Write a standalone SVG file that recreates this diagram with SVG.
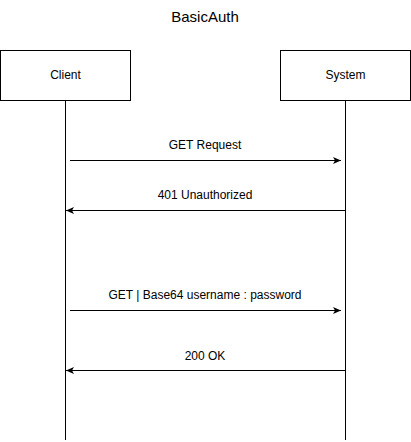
<svg xmlns="http://www.w3.org/2000/svg" width="411" height="442" viewBox="0 0 411 442">
<defs>
<marker id="ah" markerWidth="9" markerHeight="8" refX="8" refY="4" orient="auto" markerUnits="userSpaceOnUse">
<path d="M0,0.5 L8,4 L0,7.5 L2,4 Z" fill="#000"/>
</marker>
</defs>
<style>
text{font-family:"Liberation Sans",Arial,sans-serif;fill:#000;text-anchor:middle}
.lbl{font-size:12px}
.box{fill:#fff;stroke:#000;stroke-width:1}
.life{stroke:#000;stroke-width:1;fill:none}
.msg{stroke:#000;stroke-width:1;fill:none;marker-end:url(#ah)}
</style>
<rect width="411" height="442" fill="#fff"/>
<text x="205" y="22" style="font-size:15px">BasicAuth</text>
<g id="connectors">
<line class="life" x1="65.5" y1="100" x2="65.5" y2="440"/>
<line class="life" x1="345.5" y1="100" x2="345.5" y2="440"/>
<line class="msg" x1="70" y1="160.5" x2="341" y2="160.5"/>
<text class="lbl" x="205" y="149">GET Request</text>
<line class="msg" x1="345" y1="210.5" x2="66" y2="210.5"/>
<text class="lbl" x="205" y="199">401 Unauthorized</text>
<line class="msg" x1="70" y1="310.5" x2="341" y2="310.5"/>
<text class="lbl" x="205" y="299">GET | Base64 username : password</text>
<line class="msg" x1="345" y1="370.5" x2="66" y2="370.5"/>
<text class="lbl" x="205" y="360">200 OK</text>
</g>
<g id="client">
<rect class="box" x="0.5" y="50.5" width="130" height="50"/>
<text class="lbl" x="65.5" y="79">Client</text>
</g>
<g id="system">
<rect class="box" x="280.5" y="50.5" width="130" height="50"/>
<text class="lbl" x="345.5" y="79">System</text>
</g>
</svg>
